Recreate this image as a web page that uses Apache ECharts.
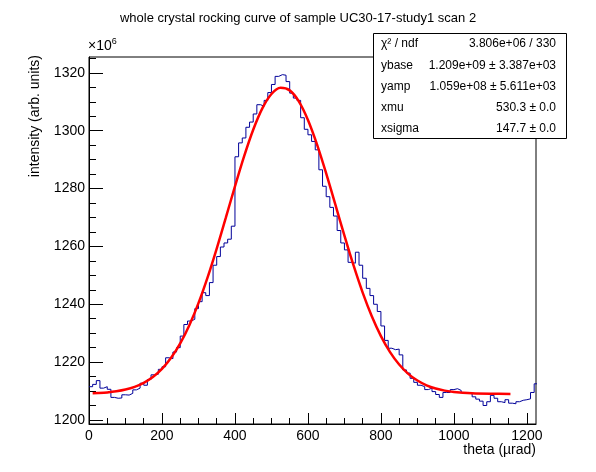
<!DOCTYPE html>
<html>
<head>
<meta charset="utf-8">
<script src="https://cdn.jsdelivr.net/npm/echarts@6/dist/echarts.min.js"></script>
<style>
  html, body { margin: 0; padding: 0; background: #fff; }
  #main { width: 596px; height: 472px; }
</style>
</head>
<body>
<div id="main"></div>
<script>
// histogram: bin width 10 urad, starting at 0
var binStart = 0;
var binWidth = 10;
var counts = [
  1211.5, 1212.3, 1213.6, 1211.0, 1211.5, 1210.6, 1207.8, 1207.5, 1207.6, 1208.7,
  1208.6, 1209.2, 1210.4, 1211.0, 1212.7, 1212.0, 1214.0, 1215.6, 1215.8, 1217.5,
  1218.4, 1221.5, 1221.2, 1223.5, 1225.0, 1229.0, 1233.0, 1234.2, 1234.8, 1238.5,
  1240.9, 1244.0, 1243.0, 1247.5, 1253.5, 1256.5, 1259.8, 1261.2, 1262.5, 1267.0,
  1291.0, 1295.8, 1297.5, 1301.2, 1303.0, 1305.8, 1309.0, 1308.5, 1310.5, 1313.2,
  1316.0, 1318.8, 1319.4, 1319.2, 1317.0, 1313.0, 1311.3, 1310.5, 1304.5, 1300.5,
  1298.6, 1296.3, 1293.4, 1286.5, 1280.8, 1277.2, 1273.5, 1270.5, 1265.5, 1261.2,
  1258.8, 1254.5, 1254.2, 1258.0, 1253.5, 1249.0, 1245.5, 1243.0, 1240.0, 1237.5,
  1232.5, 1227.5, 1224.8, 1224.3, 1224.5, 1222.5, 1217.3, 1216.2, 1214.4, 1213.0,
  1212.0, 1211.5, 1210.5, 1211.0, 1209.8, 1208.8, 1207.8, 1209.5, 1209.5, 1210.5,
  1210.8, 1210.2, 1209.5, 1209.5, 1209.0, 1208.0, 1207.2, 1206.5, 1205.0, 1206.3,
  1208.5, 1207.5, 1206.3, 1206.0, 1207.0, 1205.8, 1205.6, 1206.3, 1206.8, 1207.0,
  1207.3, 1209.5, 1212.5
];

// gaussian fit curve
var fitTheta = [10, 25, 50, 75, 100, 125, 150, 175, 200, 225, 250, 275, 300, 325, 350,
  375, 400, 425, 450, 475, 500, 525, 550, 575, 600, 625, 650, 675, 700, 725, 750,
  775, 800, 825, 850, 875, 900, 925, 950, 975, 1000, 1050, 1100, 1155];
var fitValue = [1209.21, 1209.30, 1209.53, 1209.92, 1210.52, 1211.45, 1212.85, 1214.87,
  1217.69, 1221.51, 1226.49, 1232.77, 1240.40, 1249.31, 1259.27, 1269.94, 1280.77,
  1291.14, 1300.35, 1307.73, 1312.70, 1314.83, 1313.96, 1310.16, 1303.74, 1295.22,
  1285.26, 1274.53, 1263.73, 1253.41, 1244.03, 1235.85, 1229.00, 1223.47, 1219.18,
  1215.95, 1213.62, 1211.98, 1210.87, 1210.14, 1209.67, 1209.22, 1209.06, 1209.01];

// axis ticks
var xLabels = [0, 200, 400, 600, 800, 1000, 1200];
var xMinor = [0, 50, 100, 150, 200, 250, 300, 350, 400, 450, 500, 550, 600, 650, 700,
  750, 800, 850, 900, 950, 1000, 1050, 1100, 1150, 1200];
var yLabels = [1200, 1220, 1240, 1260, 1280, 1300, 1320];
var yMinor = [1200, 1205, 1210, 1215, 1220, 1225, 1230, 1235, 1240, 1245, 1250, 1255,
  1260, 1265, 1270, 1275, 1280, 1285, 1290, 1295, 1300, 1305, 1310, 1315, 1320, 1325];

// stats box
var statNames = ['χ² / ndf', 'ybase', 'yamp', 'xmu', 'xsigma'];
var statValues = ['3.806e+06 / 330', '1.209e+09 ± 3.387e+03', '1.059e+08 ± 5.611e+03',
  '530.3 ± 0.0', '147.7 ± 0.0'];

var FONT = '"Liberation Sans", Arial, Helvetica, sans-serif';

var histData = [];
for (var i = 0; i < counts.length; i++) {
  histData.push([binStart + i * binWidth, counts[i]]);
}
histData.push([binStart + counts.length * binWidth, counts[counts.length - 1]]);

var fitData = [];
for (var j = 0; j < fitTheta.length; j++) {
  fitData.push([fitTheta[j], fitValue[j]]);
}

function plain(v) {
  return String(v);
}

var myChart = echarts.init(document.getElementById('main'), null, {renderer: 'canvas'});

var statGraphics = [{
  type: 'rect',
  shape: {x: 373.5, y: 33.5, width: 193, height: 105},
  style: {fill: '#fff', stroke: '#000', lineWidth: 1},
  z: 10
}];
for (var k = 0; k < statNames.length; k++) {
  statGraphics.push({
    type: 'text', x: 381, y: 44 + k * 21.2, z: 11,
    style: {text: statNames[k], font: '12px ' + FONT, fill: '#000', verticalAlign: 'middle', align: 'left'}
  });
  statGraphics.push({
    type: 'text', x: 556, y: 44 + k * 21.2, z: 11,
    style: {text: statValues[k], font: '12px ' + FONT, fill: '#000', verticalAlign: 'middle', align: 'right'}
  });
}

option = {
  animation: false,
  backgroundColor: '#fff',
  textStyle: {fontFamily: FONT},
  title: {
    text: 'whole crystal rocking curve of sample UC30-17-study1 scan 2',
    left: 'center',
    top: 7,
    textStyle: {fontSize: 13, fontWeight: 'normal', color: '#000', fontFamily: FONT}
  },
  grid: {
    left: 89, right: 60, top: 57, bottom: 48,
    containLabel: false,
    show: true, borderColor: '#000', borderWidth: 1, backgroundColor: 'transparent'
  },
  xAxis: [{
    type: 'value', min: 0, max: 1225, position: 'bottom',
    axisLine: {show: true, onZero: false, lineStyle: {color: '#000', width: 1}},
    axisTick: {show: true, inside: true, length: 11, customValues: xLabels, lineStyle: {color: '#000'}},
    axisLabel: {show: true, customValues: xLabels, formatter: plain, margin: 5, color: '#000', fontSize: 14, fontFamily: FONT},
    splitLine: {show: false}
  }, {
    type: 'value', min: 0, max: 1225, position: 'bottom',
    axisLine: {show: false},
    axisTick: {show: true, inside: true, length: 6, customValues: xMinor, lineStyle: {color: '#000'}},
    axisLabel: {show: false},
    splitLine: {show: false}
  }],
  yAxis: [{
    type: 'value', min: 1198.6, max: 1325.5, position: 'left',
    axisLine: {show: true, onZero: false, lineStyle: {color: '#000', width: 1}},
    axisTick: {show: true, inside: true, length: 14, customValues: yLabels, lineStyle: {color: '#000'}},
    axisLabel: {show: true, customValues: yLabels, formatter: plain, margin: 4, color: '#000', fontSize: 14, fontFamily: FONT},
    splitLine: {show: false}
  }, {
    type: 'value', min: 1198.6, max: 1325.5, position: 'left',
    axisLine: {show: false},
    axisTick: {show: true, inside: true, length: 7, customValues: yMinor, lineStyle: {color: '#000'}},
    axisLabel: {show: false},
    splitLine: {show: false}
  }],
  series: [{
    name: 'data',
    type: 'line',
    xAxisIndex: 0, yAxisIndex: 0,
    step: 'end',
    symbol: 'none',
    clip: true,
    lineStyle: {color: '#000099', width: 1},
    data: histData,
    z: 2
  }, {
    name: 'fit',
    type: 'line',
    xAxisIndex: 0, yAxisIndex: 0,
    smooth: 0.3,
    symbol: 'none',
    clip: true,
    lineStyle: {color: '#ff0000', width: 2.5},
    data: fitData,
    z: 3
  }],
  graphic: [{
    type: 'text', x: 88, y: 46,
    style: {
      text: '×10{s|6}', font: '14px ' + FONT, fill: '#000', verticalAlign: 'middle', align: 'left',
      rich: {s: {fontSize: 9, verticalAlign: 'top', padding: [0, 0, 9, 0], fontFamily: FONT}}
    }
  }, {
    type: 'text', x: 35, y: 55, rotation: Math.PI / 2,
    style: {text: 'intensity (arb. units)', font: '14px ' + FONT, fill: '#000', align: 'right', verticalAlign: 'middle'}
  }, {
    type: 'text', x: 536, y: 450,
    style: {text: 'theta (µrad)', font: '14px ' + FONT, fill: '#000', align: 'right', verticalAlign: 'middle'}
  }].concat(statGraphics)
};

myChart.setOption(option);
window.addEventListener('resize', function () {
  myChart.resize();
});
</script>
</body>
</html>
